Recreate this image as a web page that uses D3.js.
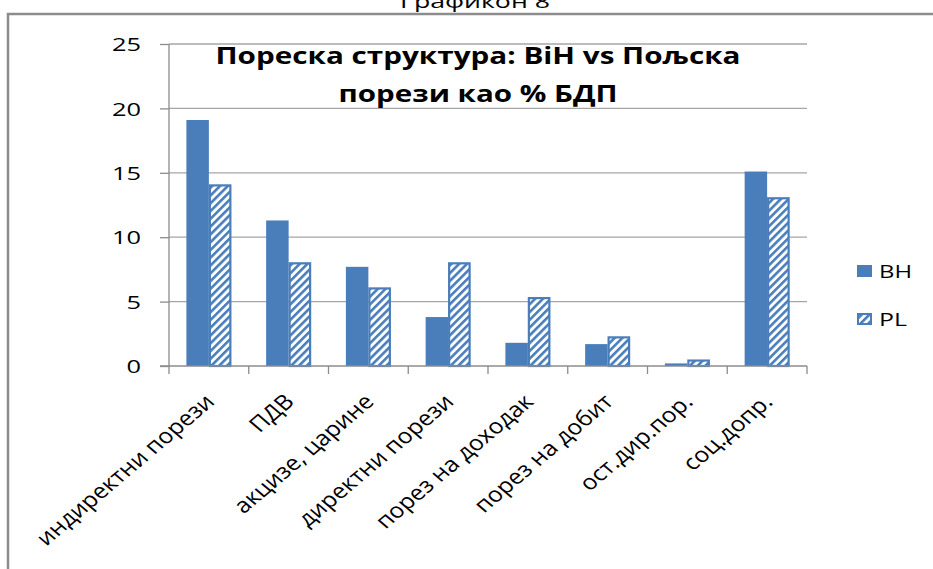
<!DOCTYPE html>
<html><head><meta charset="utf-8">
<script src="https://cdn.jsdelivr.net/npm/d3@7"></script>
<style>body{margin:0;background:#fff;}svg{display:block;}</style>
</head><body>
<script>
const categories = ["индиректни порези","ПДВ","акцизе, царине","директни порези","порез на доходак","порез на добит","ост.дир.пор.","соц.допр."];
const seriesNames = ["BH","PL"];
const valuesBH = [19.1, 11.3, 7.7, 3.8, 1.8, 1.7, 0.2, 15.1];
const valuesPL = [14.1, 8.05, 6.1, 8.05, 5.35, 2.3, 0.5, 13.1];
const yTicks = [0,5,10,15,20,25];
const titleLines = ["Пореска структура: BiH vs Пољска","порези као % БДП"];
const caption = "Графикон 8";

const W=933,H=569;
const blue="#4a7ebb";
const FONT="Open Sans, sans-serif";
const svg=d3.select("body").append("svg").attr("width",W).attr("height",H);
const defs=svg.append("defs");
const pat=defs.append("pattern").attr("id","hatch").attr("patternUnits","userSpaceOnUse")
  .attr("width",5.5).attr("height",5.5).attr("patternTransform","rotate(45)");
pat.append("rect").attr("width",5.5).attr("height",5.5).attr("fill","#fff");
pat.append("rect").attr("x",0).attr("y",0).attr("width",2.6).attr("height",5.5).attr("fill",blue);

// frame
svg.append("path").attr("d","M8,569 L8,14 L933,14").attr("fill","none").attr("stroke","#8c8c8c").attr("stroke-width",2.5);
svg.append("text").attr("x",475).attr("y",8).attr("text-anchor","middle")
  .attr("font-family",FONT).attr("font-size",19).attr("fill","#000")
  .attr("textLength",150).attr("lengthAdjust","spacingAndGlyphs").text(caption);

const x0=d3.scaleBand().domain(categories).range([169,807]).paddingInner(0.436).paddingOuter(0.218);
const x1=d3.scaleBand().domain(seriesNames).range([0,x0.bandwidth()]);
const y=d3.scaleLinear().domain([0,25]).range([366,44]);

// gridlines
svg.append("g").selectAll("line").data(yTicks.slice(1)).join("line")
  .attr("x1",169).attr("x2",807).attr("y1",d=>y(d)).attr("y2",d=>y(d))
  .attr("stroke","#a6a6a6").attr("stroke-width",1.3);

// y axis
const ya=svg.append("g").attr("transform","translate(169,0)")
  .call(d3.axisLeft(y).tickValues(yTicks).tickSize(9).tickPadding(19));
ya.select(".domain").attr("stroke","#8c8c8c").attr("stroke-width",1.3).attr("d","M0,"+y(0)+"V"+y(25));
ya.selectAll(".tick line").attr("stroke","#8c8c8c").attr("stroke-width",1.3);
ya.selectAll("text").attr("font-family",FONT).attr("font-size",18.5).attr("fill","#000")
  .attr("dy","0.36em")
  .attr("textLength",d=>String(d).length*14.5).attr("lengthAdjust","spacingAndGlyphs");

// bars
const g=svg.append("g");
const groups=g.selectAll("g").data(categories).join("g").attr("transform",d=>`translate(${x0(d)},0)`);
groups.append("rect").attr("x",x1("BH")).attr("width",x1.bandwidth())
  .attr("y",(d,i)=>y(valuesBH[i])).attr("height",(d,i)=>y(0)-y(valuesBH[i])).attr("fill",blue);
groups.append("rect").attr("x",x1("PL")+1).attr("width",x1.bandwidth()-2)
  .attr("y",(d,i)=>y(valuesPL[i])+1).attr("height",(d,i)=>Math.max(0,y(0)-y(valuesPL[i])-1))
  .attr("fill","url(#hatch)").attr("stroke",blue).attr("stroke-width",2.2);

// x axis
const xa=svg.append("g").attr("transform",`translate(0,${y(0)})`);
xa.append("line").attr("x1",160).attr("x2",807).attr("stroke","#8c8c8c").attr("stroke-width",1.3);
const tickXs=d3.range(categories.length+1).map(i=>169+i*x0.step());
xa.selectAll("line.t").data(tickXs).join("line").attr("class","t")
  .attr("x1",d=>d).attr("x2",d=>d).attr("y1",0).attr("y2",8).attr("stroke","#8c8c8c").attr("stroke-width",1.3);
xa.selectAll("text").data(categories).join("text")
  .attr("transform",d=>`translate(${x0(d)+x0.bandwidth()/2+7},${37}) scale(1.18,1) rotate(-45)`)
  .attr("text-anchor","end").attr("font-family",FONT).attr("font-size",21).attr("fill","#000")
  .text(d=>d);

// title
const t=svg.append("text").attr("text-anchor","middle").attr("font-family",FONT)
  .attr("font-weight","bold").attr("font-size",23).attr("fill","#000");
t.append("tspan").attr("x",478).attr("y",64).attr("textLength",525).attr("lengthAdjust","spacingAndGlyphs").text(titleLines[0]);
t.append("tspan").attr("x",478).attr("y",102).attr("textLength",279).attr("lengthAdjust","spacingAndGlyphs").text(titleLines[1]);

// legend
const lg=svg.append("g");
seriesNames.forEach((s,i)=>{
  const yy=265+i*48;
  lg.append("rect").attr("x",s==="BH"?857:858).attr("y",s==="BH"?yy:yy+1).attr("width",s==="BH"?15:13).attr("height",s==="BH"?12:10)
    .attr("fill",s==="BH"?blue:"url(#hatch)").attr("stroke",s==="BH"?"none":blue).attr("stroke-width",2);
  lg.append("text").attr("x",879).attr("y",yy+13).attr("font-family",FONT).attr("font-size",18).attr("fill","#000")
    .attr("textLength",s==="BH"?33:28).attr("lengthAdjust","spacingAndGlyphs").text(s);
});
</script>
</body></html>
